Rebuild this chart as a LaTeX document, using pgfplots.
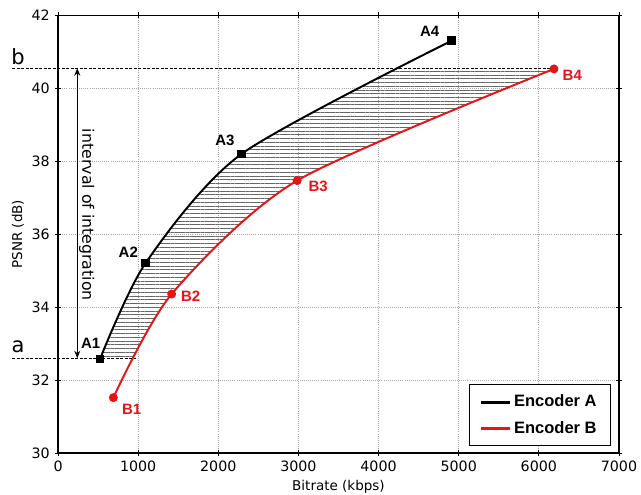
\documentclass[border=0pt]{standalone}
\usepackage{fontspec}
\setmainfont{DejaVu Sans}
\newfontfamily\lib{Liberation Sans}
\usepackage{pgfplots}
\pgfplotsset{compat=1.18}
\usepgfplotslibrary{fillbetween}
\usetikzlibrary{patterns.meta,arrows.meta,calc}
\definecolor{encred}{RGB}{230,20,20}
\begin{document}
\begin{tikzpicture}
\begin{axis}[name=ax, scale only axis, width=374pt, height=291.9pt,
  xmin=0, xmax=7000, ymin=30, ymax=42,
  xtick={0,1000,...,7000}, ytick={30,32,...,42},
  grid=major, grid style={densely dotted, gray!70, line width=0.5pt},
  tick align=center, major tick length=4pt, tick style={black, line width=0.6pt},
  axis line style={line width=0.9pt},
  tick label style={font=\fontsize{9.5}{11}\selectfont},
  /pgf/number format/assume math mode=true,
  /pgf/number format/1000 sep={},
  scaled x ticks=false,
  xlabel={Bitrate (kbps)}, ylabel={PSNR (dB)},
  label style={font=\fontsize{9}{11}\selectfont},
  xlabel style={at={(axis description cs:0.5,0)}, anchor=center, yshift=-22.3pt},
  ylabel style={at={(axis description cs:-0.0714,0.5)}, anchor=center},
  clip=false,
  legend style={at={(1,0)}, anchor=south east, xshift=-5.5pt, yshift=4.4pt,
    draw=black, line width=0.8pt, font=\lib\bfseries\fontsize{11}{13}\selectfont,
    inner xsep=7pt, inner ysep=5pt, row sep=4pt, cells={anchor=west}},
  legend image code/.code={\draw[#1, line width=2pt, mark=none] (0pt,0pt) -- (19pt,0pt);},
]
\addplot[name path=A, black, line width=1.3pt, smooth, tension=0.45, mark=square*, mark size=2.3pt]
  coordinates {(524,32.58) (1093,35.21) (2290,38.2) (4909,41.30)};
\addlegendentry{Encoder A\hspace{17pt}}
\addplot[name path=B, encred, line width=1.3pt, smooth, tension=0.45, mark=*, mark size=2.3pt]
  coordinates {(690,31.52) (1418,34.36) (2984,37.47) (6189,40.53)};
\addlegendentry{Encoder B\hspace{17pt}}
\addplot[draw=none, pattern={Lines[angle=0,distance=2.5pt,line width=0.45pt]}, pattern color=black!60, forget plot]
  fill between[of=A and B, soft clip={domain y=32.6:40.55}];
% a and b lines
\draw[black, line width=0.9pt, dash pattern=on 2pt off 1pt] (axis cs:-574,40.55) -- (axis cs:6189,40.55);
\draw[black, line width=0.9pt, dash pattern=on 2pt off 1pt] (axis cs:-574,32.6) -- (axis cs:970,32.6);
\node[font=\fontsize{14}{16}\selectfont] at (axis cs:-499,40.86) {b};
\node[font=\fontsize{14}{16}\selectfont] at (axis cs:-499,32.91) {a};
\draw[{Stealth[length=5pt,width=4pt]}-{Stealth[length=5pt,width=4pt]}, line width=0.8pt] (axis cs:240,32.6) -- (axis cs:240,40.55);
\node[rotate=-90, font=\fontsize{10.5}{12}\selectfont] at (axis cs:358,36.53) {interval of integration};
% point labels
\node[font=\lib\bfseries\fontsize{10}{12}\selectfont] at (axis cs:408,33.01) {A1};
\node[font=\lib\bfseries\fontsize{10}{12}\selectfont] at (axis cs:877,35.50) {A2};
\node[font=\lib\bfseries\fontsize{10}{12}\selectfont] at (axis cs:2082,38.56) {A3};
\node[font=\lib\bfseries\fontsize{10}{12}\selectfont] at (axis cs:4638,41.55) {A4};
\node[text=encred, font=\lib\bfseries\fontsize{10}{12}\selectfont] at (axis cs:919,31.2) {B1};
\node[text=encred, font=\lib\bfseries\fontsize{10}{12}\selectfont] at (axis cs:1655,34.29) {B2};
\node[text=encred, font=\lib\bfseries\fontsize{10}{12}\selectfont] at (axis cs:3246,37.30) {B3};
\node[text=encred, font=\lib\bfseries\fontsize{10}{12}\selectfont] at (axis cs:6418,40.35) {B4};
\end{axis}
\pgfresetboundingbox
\path[use as bounding box] ($(ax.south west)+(-38.7pt,-27.8pt)$) rectangle ($(ax.north east)+(14.7pt,10.2pt)$);
\end{tikzpicture}
\end{document}
